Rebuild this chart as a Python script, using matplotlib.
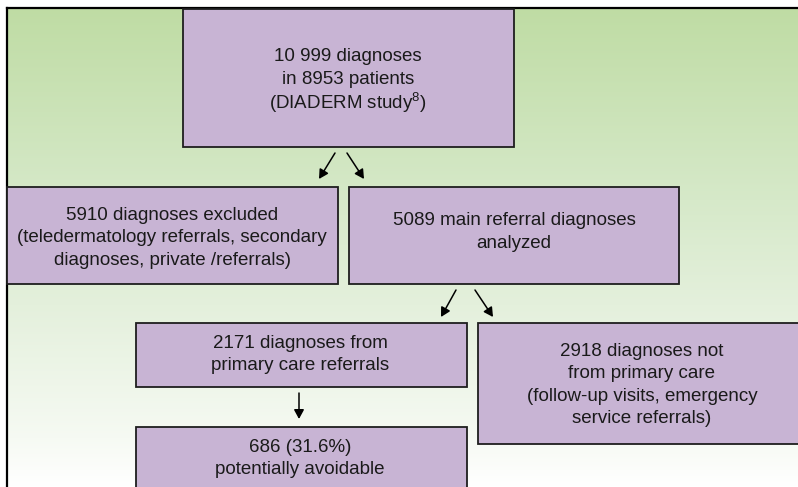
import matplotlib
matplotlib.use('Agg')
import matplotlib.pyplot as plt
import numpy as np
from matplotlib.patches import Rectangle
from matplotlib.colors import LinearSegmentedColormap

plt.rcParams['font.family'] = ['Liberation Sans', 'DejaVu Sans']
plt.rcParams['mathtext.fontset'] = 'custom'
plt.rcParams['mathtext.rm'] = 'Liberation Sans'
plt.rcParams['mathtext.default'] = 'regular'

# box texts of the flow diagram
box_labels = [
    "10 999 diagnoses\nin 8953 patients\n(DIADERM study$^{8}$)",
    "5910 diagnoses excluded\n(teledermatology referrals, secondary\ndiagnoses, private /referrals)",
    "5089 main referral diagnoses\nanalyzed",
    "2171 diagnoses from\nprimary care referrals",
    "2918 diagnoses not\nfrom primary care\n(follow-up visits, emergency\nservice referrals)",
    "686 (31.6%)\npotentially avoidable",
]
# (from box, to box) links
links = [(0, 1), (0, 2), (2, 3), (2, 4), (3, 5)]

# layout in pixels: x0, y0, x1, y1
box_pos = [
    (183, 9, 514, 147),
    (7, 187, 338, 284),
    (349, 187, 679, 284),
    (136, 323, 467, 387),
    (478, 323, 810, 444),
    (136, 427, 467, 500),
]
text_center = [(348, 77), (172, 236), (514, 230), (300, 352.5), (642, 383), (300, 456.5)]
line_pitch = 22.5
arrow_pos = [
    ((335, 153), (319, 179)),
    ((347, 153), (364, 179)),
    ((456, 290), (441, 317)),
    ((475, 290), (493, 317)),
    ((299, 393), (299, 419)),
]

W, H = 798, 487
fig = plt.figure(figsize=(W / 100, H / 100), dpi=100)
ax = fig.add_axes([0, 0, 1, 1])
ax.set_xlim(0, W)
ax.set_ylim(H, 0)
ax.axis('off')

# green-to-white background gradient
bg = LinearSegmentedColormap.from_list(
    'bg', [(0, '#bfdca4'), (0.4, '#d6e9c9'), (0.62, '#e4f0dc'), (0.9, '#f6faf3'), (1, '#ffffff')])
grad = np.linspace(0, 1, 256).reshape(-1, 1)
ax.imshow(grad, cmap=bg, aspect='auto', extent=(7, W, H, 8), zorder=0)

# outer frame
ax.plot([7, 7], [H, 8], color='black', lw=1.6, zorder=1, solid_capstyle='projecting')
ax.plot([7, W], [8, 8], color='black', lw=1.6, zorder=1, solid_capstyle='projecting')

for label, (x0, y0, x1, y1), (cx, cy) in zip(box_labels, box_pos, text_center):
    ax.add_patch(Rectangle((x0, y0), x1 - x0, y1 - y0, facecolor='#c8b4d4',
                           edgecolor='#1e1e1e', lw=1.3, zorder=2))
    lines = label.split('\n')
    n = len(lines)
    for k, line in enumerate(lines):
        y = cy + (k - (n - 1) / 2) * line_pitch
        ax.text(cx, y, line, ha='center', va='center_baseline', fontsize=13.5,
                color='#1a1a1a', zorder=3)

for (a, b), (p0, p1) in zip(links, arrow_pos):
    ax.annotate('', xy=p1, xytext=p0,
                arrowprops=dict(arrowstyle='-|>,head_length=0.55,head_width=0.3',
                                color='black', lw=1.1, shrinkA=0, shrinkB=0), zorder=4)

fig.savefig('out.png', dpi=100)
